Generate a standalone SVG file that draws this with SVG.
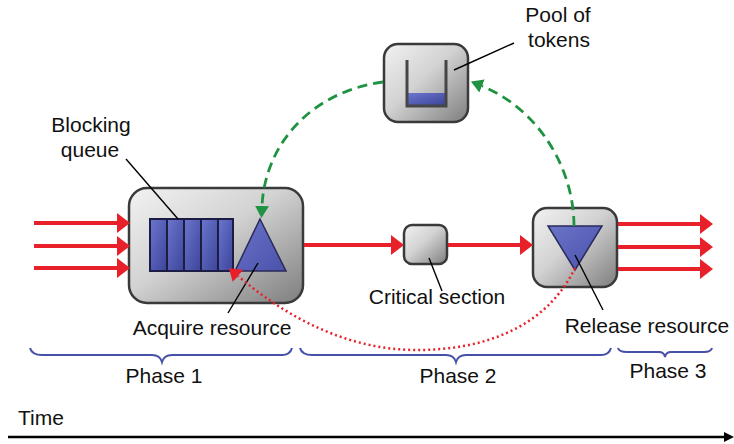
<svg xmlns="http://www.w3.org/2000/svg" width="734" height="444" viewBox="0 0 734 444">
<style>
text{font-family:"Liberation Sans",Arial,Helvetica,sans-serif;font-size:21px;fill:#111}
.box{fill:url(#gBox);stroke:#3a3a3a;stroke-width:2.5}
.red{stroke:#e8202a;stroke-width:4;fill:none}
.green{stroke:#1f9342;stroke-width:2.8;fill:none;stroke-dasharray:10 6}
.dot{stroke:#e8202a;stroke-width:2.5;fill:none;stroke-dasharray:2 3}
.lead{stroke:#000;stroke-width:1.4;fill:none}
.brace{stroke:#4650a6;stroke-width:2;fill:none}
.cell{fill:url(#gBlue);stroke:#1c1c44;stroke-width:2}
.tri{fill:url(#gTri);stroke:#2a2a5a;stroke-width:1.5}
</style>
<defs>
<linearGradient id="gBox" x1="0" y1="0" x2="1" y2="1">
<stop offset="0" stop-color="#f2f2f2"/>
<stop offset="0.45" stop-color="#d2d2d2"/>
<stop offset="1" stop-color="#7e7e7e"/>
</linearGradient>
<linearGradient id="gBlue" x1="0" y1="0" x2="1" y2="1">
<stop offset="0" stop-color="#6c76cc"/>
<stop offset="1" stop-color="#3c449c"/>
</linearGradient>
<linearGradient id="gTri" x1="0" y1="0" x2="1" y2="1">
<stop offset="0" stop-color="#6a74c8"/>
<stop offset="1" stop-color="#4a52aa"/>
</linearGradient>
<marker id="aRed" viewBox="0 0 13 20" refX="0" refY="10" markerWidth="13" markerHeight="20" markerUnits="userSpaceOnUse" orient="auto">
<path d="M0,0 L13,10 L0,20 z" fill="#e8202a"/>
</marker>
<marker id="aDot" viewBox="0 0 12 16" refX="0" refY="8" markerWidth="12" markerHeight="16" markerUnits="userSpaceOnUse" orient="auto">
<path d="M0,0 L12,8 L0,16 z" fill="#e8202a"/>
</marker>
<marker id="aGreen" viewBox="0 0 12 14" refX="0" refY="7" markerWidth="12" markerHeight="14" markerUnits="userSpaceOnUse" orient="auto">
<path d="M0,0 L12,7 L0,14 z" fill="#1f9342"/>
</marker>
<marker id="aBlack" viewBox="0 0 10 10" refX="0" refY="5" markerWidth="10" markerHeight="10" markerUnits="userSpaceOnUse" orient="auto">
<path d="M0,0 L10,5 L0,10 z" fill="#000"/>
</marker>
</defs>
<rect width="734" height="444" fill="#fff"/>

<g id="queue-node">
<rect class="box" x="129" y="188" width="174" height="115" rx="18"/>
<rect class="cell" x="150" y="219" width="17" height="52"/>
<rect class="cell" x="167" y="219" width="17" height="52"/>
<rect class="cell" x="184" y="219" width="17" height="52"/>
<rect class="cell" x="201" y="219" width="17" height="52"/>
<rect class="cell" x="218" y="219" width="15" height="52"/>
<path class="tri" d="M260,219 L286,271 L235,271 z"/>
<line class="lead" x1="126" y1="159" x2="178" y2="219"/>
<text x="91" y="132" text-anchor="middle">Blocking</text>
<text x="90" y="157" text-anchor="middle">queue</text>
<line class="lead" x1="258" y1="263" x2="228" y2="313"/>
<text x="212" y="335" text-anchor="middle">Acquire resource</text>
</g>

<g id="pool-node">
<rect class="box" x="384" y="44" width="84" height="78" rx="14"/>
<rect x="408" y="93" width="37" height="12" fill="url(#gBlue)"/>
<path d="M407,60 L407,106 L446,106 L446,60" fill="none" stroke="#464646" stroke-width="3"/>
<line class="lead" x1="514" y1="43" x2="454" y2="70"/>
<text x="558" y="22" text-anchor="middle">Pool of</text>
<text x="559" y="47" text-anchor="middle">tokens</text>
</g>

<g id="critical-node">
<rect class="box" x="404" y="225" width="43" height="39" rx="8"/>
<line class="lead" x1="429" y1="258" x2="442" y2="291"/>
<text x="437" y="304" text-anchor="middle">Critical section</text>
</g>

<g id="release-node">
<rect class="box" x="533" y="208" width="84" height="79" rx="14"/>
<path class="tri" d="M548,226 L602,226 L575,270 z"/>
<line class="lead" x1="575" y1="255" x2="603" y2="310"/>
<text x="647" y="333" text-anchor="middle">Release resource</text>
</g>

<g id="connectors">
<line class="red" x1="34" y1="223" x2="117" y2="223" marker-end="url(#aRed)"/>
<line class="red" x1="34" y1="246" x2="117" y2="246" marker-end="url(#aRed)"/>
<line class="red" x1="34" y1="268" x2="117" y2="268" marker-end="url(#aRed)"/>
<line class="red" x1="304" y1="245" x2="391" y2="245" marker-end="url(#aRed)"/>
<line class="red" x1="448" y1="245" x2="520" y2="245" marker-end="url(#aRed)"/>
<line class="red" x1="618" y1="224" x2="700" y2="224" marker-end="url(#aRed)"/>
<line class="red" x1="618" y1="247" x2="700" y2="247" marker-end="url(#aRed)"/>
<line class="red" x1="618" y1="269" x2="700" y2="269" marker-end="url(#aRed)"/>
<path class="green" d="M383,82 C310,92 265,145 262,206" marker-end="url(#aGreen)"/>
<path class="green" d="M574,226 C574,170 540,110 482,86" marker-end="url(#aGreen)"/>
<path class="dot" d="M575,268 C545,330 480,350 417,350 C350,350 290,320 238,276" marker-end="url(#aDot)"/>
</g>

<g id="phases">
<path class="brace" d="M30,348 Q32,355 42,355 L152,355 Q160,355 162,362 Q164,355 172,355 L282,355 Q290,355 292,348"/>
<path class="brace" d="M300,348 Q302,355 312,355 L446,355 Q454,355 456,362 Q458,355 466,355 L601,355 Q609,355 611,348"/>
<path class="brace" d="M618,348 Q619,352 627,352 L659,352 Q664,352 665,357 Q666,352 671,352 L704,352 Q711,352 712,348"/>
<text x="164" y="383" text-anchor="middle">Phase 1</text>
<text x="458" y="383" text-anchor="middle">Phase 2</text>
<text x="668" y="378" text-anchor="middle">Phase 3</text>
</g>

<g id="time">
<text x="18" y="425">Time</text>
<line x1="8" y1="437" x2="724" y2="437" stroke="#000" stroke-width="2.5" marker-end="url(#aBlack)"/>
</g>
</svg>
